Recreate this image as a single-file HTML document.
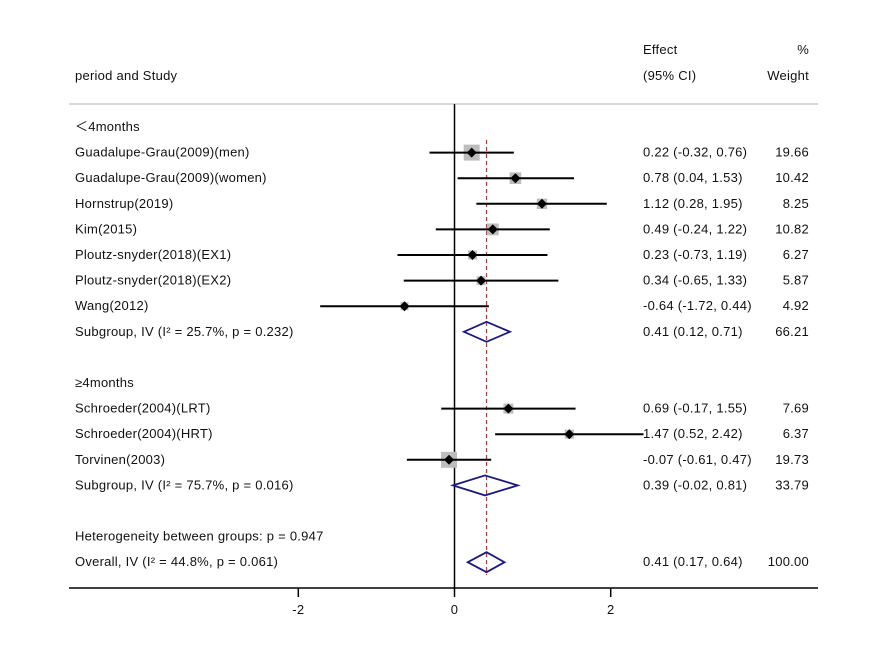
<!DOCTYPE html>
<html><head><meta charset="utf-8"><style>
body{margin:0;background:#fff;}
svg{display:block;font-family:"Liberation Sans",Arial,sans-serif;font-size:13px;letter-spacing:0.25px;fill:#111;}
</style></head><body>
<svg id="chart" width="886" height="646" viewBox="0 0 886 646">
<rect width="886" height="646" fill="#fff"/>
<g id="g"></g>
</svg>
<script>
const labels=["Guadalupe-Grau(2009)(men)","Guadalupe-Grau(2009)(women)","Hornstrup(2019)","Kim(2015)","Ploutz-snyder(2018)(EX1)","Ploutz-snyder(2018)(EX2)","Wang(2012)","Schroeder(2004)(LRT)","Schroeder(2004)(HRT)","Torvinen(2003)"];
const effects=[0.22,0.78,1.12,0.49,0.23,0.34,-0.64,0.69,1.47,-0.07];
const lower=[-0.32,0.04,0.28,-0.24,-0.73,-0.65,-1.72,-0.17,0.52,-0.61];
const upper=[0.76,1.53,1.95,1.22,1.19,1.33,0.44,1.55,2.42,0.47];
const weights=[19.66,10.42,8.25,10.82,6.27,5.87,4.92,7.69,6.37,19.73];
const rowIdx=[1,2,3,4,5,6,7,11,12,13];
const subLabels=["Subgroup, IV (I² = 25.7%, p = 0.232)","Subgroup, IV (I² = 75.7%, p = 0.016)","Overall, IV (I² = 44.8%, p = 0.061)"];
const subEff=[0.41,0.39,0.41];
const subLo=[0.12,-0.02,0.17];
const subHi=[0.71,0.81,0.64];
const subW=[66.21,33.79,100.00];
const subRow=[8,14,17];
const xTicks=[-2,0,2];
const overall=0.41;

const NS="http://www.w3.org/2000/svg";
const g=document.getElementById('g');
const X=v=>454.5+v*78.1;
const Y=r=>127+r*25.6;
function el(t,a,p){const e=document.createElementNS(NS,t);for(const k in a)e.setAttribute(k,a[k]);(p||g).appendChild(e);return e;}
function txt(x,y,s,anchor){const e=el('text',{x:x,y:y,'text-anchor':anchor||'start'});e.textContent=s;return e;}

let e;
e=el('line',{x1:69,x2:818,y1:104,y2:104,stroke:'#ccc','stroke-width':1.5});

e=txt(75,80,'period and Study');
e=txt(643,54,'Effect');
e=txt(643,80,'(95% CI)');
e=txt(809,54,'%','end');
e=txt(809,80,'Weight','end');
e=txt(75,Y(0)+4,'＜4months');
e=txt(75,Y(10)+4,'≥4months');
e=txt(75,Y(16)+4,'Heterogeneity between groups: p = 0.947');

e=el('line',{x1:X(0),x2:X(0),y1:104,y2:588,stroke:'#000','stroke-width':1.5});

e=el('line',{x1:X(overall),x2:X(overall),y1:140,y2:575,stroke:'#b03a3a','stroke-width':1.2,'stroke-dasharray':'4,3'});


const f=v=>v.toFixed(2);
labels.forEach((lab,i)=>{
  const y=Y(rowIdx[i]);
  let t=txt(75,y+4,lab);
  const s=3.6*Math.sqrt(weights[i]);
  let r=el('rect',{x:X(effects[i])-s/2,y:y-s/2,width:s,height:s,fill:'#bdbdbd'});
  
  let l=el('line',{x1:X(lower[i]),x2:X(upper[i]),y1:y,y2:y,stroke:'#000','stroke-width':2});
  
  const cx=X(effects[i]);
  let d=el('polygon',{points:`${cx},${y-5} ${cx+5},${y} ${cx},${y+5} ${cx-5},${y}`,fill:'#000'});
  
  t=txt(643,y+4,`${f(effects[i])} (${f(lower[i])}, ${f(upper[i])})`);
  t=txt(809,y+4,f(weights[i]),'end');
});
subLabels.forEach((lab,i)=>{
  const y=Y(subRow[i]);
  let t=txt(75,y+4,lab);
  let d=el('polygon',{points:`${X(subLo[i])},${y} ${X(subEff[i])},${y-10} ${X(subHi[i])},${y} ${X(subEff[i])},${y+10}`,fill:'none',stroke:'#1a1a80','stroke-width':1.8});
  
  t=txt(643,y+4,`${f(subEff[i])} (${f(subLo[i])}, ${f(subHi[i])})`);
  t=txt(809,y+4,f(subW[i]),'end');
});
e=el('line',{x1:69,x2:818,y1:588,y2:588,stroke:'#000','stroke-width':1.5});

xTicks.forEach(v=>{
  let l=el('line',{x1:X(v),x2:X(v),y1:588,y2:597,stroke:'#000','stroke-width':1.5});
  
  let t=txt(X(v),614,String(v),'middle');
  
});
</script>
</body></html>
